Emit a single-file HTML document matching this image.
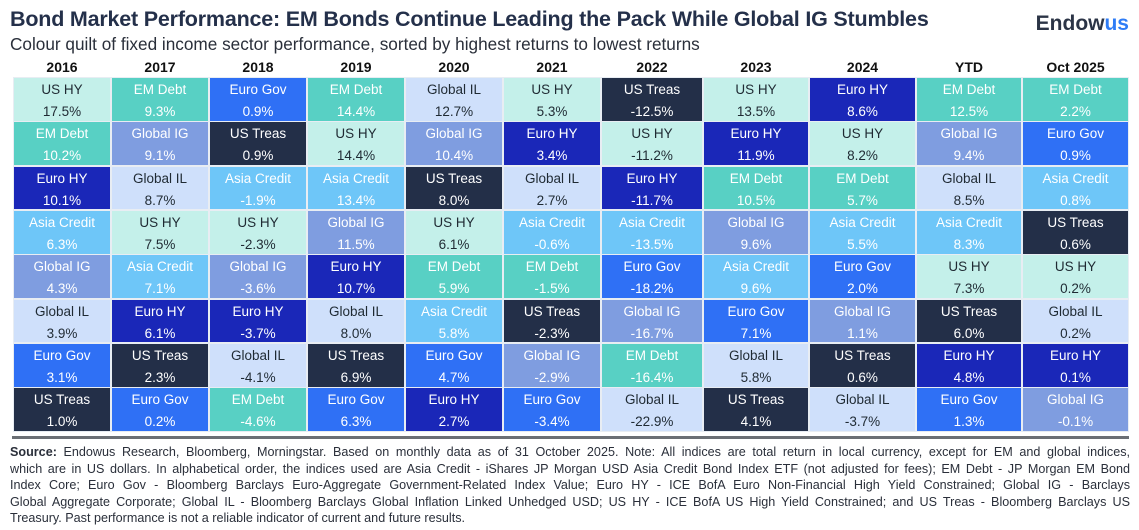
<!DOCTYPE html>
<html><head><meta charset="utf-8">
<style>
body{margin:0;width:1139px;height:530px;background:#fff;font-family:"Liberation Sans",sans-serif;position:relative;overflow:hidden;color:#1f2a44}
.abs{position:absolute}
#title{left:10px;top:7px;font-size:21.5px;font-weight:bold;color:#24304a;white-space:nowrap;letter-spacing:-0.2px}
#sub{left:10px;top:34px;font-size:17.2px;color:#2a2f3a;white-space:nowrap}
#logo{right:10px;top:12px;font-size:21px;font-weight:bold;color:#2b3446}
#logo span{color:#2e7cf6}
.hdr{font-size:14px;font-weight:bold;text-align:center;top:59px;color:#111}
.cell{box-sizing:border-box;border:1px solid #e8edf3;text-align:center;font-size:13.5px;line-height:22px;padding-top:1px}
#rule{left:12px;top:436px;width:1117px;height:3px;background:#6b6f75}
#foot{left:10px;top:444px;width:1120px;font-size:12.6px;line-height:16.6px;color:#2a2f3a}
#foot div{white-space:nowrap;text-align:justify;text-align-last:justify}
#foot div.last{text-align-last:left}
</style></head><body>
<div id="title" class="abs">Bond Market Performance: EM Bonds Continue Leading the Pack While Global IG Stumbles</div>
<div id="sub" class="abs">Colour quilt of fixed income sector performance, sorted by highest returns to lowest returns</div>
<div id="logo" class="abs">Endow<span>us</span></div>
<div id="grid"></div>
<div id="rule" class="abs"></div>
<div id="foot" class="abs">
<div><b>Source:</b> Endowus Research, Bloomberg, Morningstar. Based on monthly data as of 31 October 2025. Note: All indices are total return in local currency, except for EM and global indices,</div>
<div>which are in US dollars. In alphabetical order, the indices used are Asia Credit - iShares JP Morgan USD Asia Credit Bond Index ETF (not adjusted for fees); EM Debt - JP Morgan EM Bond</div>
<div>Index Core; Euro Gov - Bloomberg Barclays Euro-Aggregate Government-Related Index Value; Euro HY - ICE BofA Euro Non-Financial High Yield Constrained; Global IG - Barclays</div>
<div>Global Aggregate Corporate; Global IL - Bloomberg Barclays Global Inflation Linked Unhedged USD; US HY - ICE BofA US High Yield Constrained; and US Treas - Bloomberg Barclays US</div>
<div class="last">Treasury. Past performance is not a reliable indicator of current and future results.</div>
</div>
<script>
const years = ["2016","2017","2018","2019","2020","2021","2022","2023","2024","YTD","Oct 2025"];
const names2016 = ["US HY","EM Debt","Euro HY","Asia Credit","Global IG","Global IL","Euro Gov","US Treas"];
const values2016 = [17.5,10.2,10.1,6.3,4.3,3.9,3.1,1.0];
const names2017 = ["EM Debt","Global IG","Global IL","US HY","Asia Credit","Euro HY","US Treas","Euro Gov"];
const values2017 = [9.3,9.1,8.7,7.5,7.1,6.1,2.3,0.2];
const names2018 = ["Euro Gov","US Treas","Asia Credit","US HY","Global IG","Euro HY","Global IL","EM Debt"];
const values2018 = [0.9,0.9,-1.9,-2.3,-3.6,-3.7,-4.1,-4.6];
const names2019 = ["EM Debt","US HY","Asia Credit","Global IG","Euro HY","Global IL","US Treas","Euro Gov"];
const values2019 = [14.4,14.4,13.4,11.5,10.7,8.0,6.9,6.3];
const names2020 = ["Global IL","Global IG","US Treas","US HY","EM Debt","Asia Credit","Euro Gov","Euro HY"];
const values2020 = [12.7,10.4,8.0,6.1,5.9,5.8,4.7,2.7];
const names2021 = ["US HY","Euro HY","Global IL","Asia Credit","EM Debt","US Treas","Global IG","Euro Gov"];
const values2021 = [5.3,3.4,2.7,-0.6,-1.5,-2.3,-2.9,-3.4];
const names2022 = ["US Treas","US HY","Euro HY","Asia Credit","Euro Gov","Global IG","EM Debt","Global IL"];
const values2022 = [-12.5,-11.2,-11.7,-13.5,-18.2,-16.7,-16.4,-22.9];
const names2023 = ["US HY","Euro HY","EM Debt","Global IG","Asia Credit","Euro Gov","Global IL","US Treas"];
const values2023 = [13.5,11.9,10.5,9.6,9.6,7.1,5.8,4.1];
const names2024 = ["Euro HY","US HY","EM Debt","Asia Credit","Euro Gov","Global IG","US Treas","Global IL"];
const values2024 = [8.6,8.2,5.7,5.5,2.0,1.1,0.6,-3.7];
const namesYTD = ["EM Debt","Global IG","Global IL","Asia Credit","US HY","US Treas","Euro HY","Euro Gov"];
const valuesYTD = [12.5,9.4,8.5,8.3,7.3,6.0,4.8,1.3];
const namesOct = ["EM Debt","Euro Gov","Asia Credit","US Treas","US HY","Global IL","Euro HY","Global IG"];
const valuesOct = [2.2,0.9,0.8,0.6,0.2,0.2,0.1,-0.1];

const allNames=[names2016,names2017,names2018,names2019,names2020,names2021,names2022,names2023,names2024,namesYTD,namesOct];
const allValues=[values2016,values2017,values2018,values2019,values2020,values2021,values2022,values2023,values2024,valuesYTD,valuesOct];
const colors={"US HY":["#c4f0ea","#1f2a33"],"EM Debt":["#58d0c4","#fff"],"Euro Gov":["#2f70f5","#fff"],"Global IG":["#7f9de0","#fff"],"US Treas":["#232f48","#fff"],"Euro HY":["#1a27b8","#fff"],"Global IL":["#cfe0fb","#1f2a33"],"Asia Credit":["#6ec6f8","#fff"]};
const colEdges=[13,111,209,307,405,503,601,703,809,916,1022,1129];
const top0=77, rowH=44.3;
const g=document.getElementById('grid');
years.forEach((y,c)=>{
  const x=colEdges[c], w=colEdges[c+1]-colEdges[c];
  const h=document.createElement('div');
  h.className='abs hdr';
  h.style.left=x+'px';h.style.width=w+'px';
  h.textContent=y;
  
  
  g.appendChild(h);
  allNames[c].forEach((n,r)=>{
    const v=allValues[c][r];
    const d=document.createElement('div');
    d.className='abs cell';
    d.style.left=x+'px';d.style.width=w+'px';
    d.style.top=(top0+r*rowH)+'px';d.style.height=(rowH+0.5)+'px';
    const col=colors[n];
    d.style.background=col[0];d.style.color=col[1];
    d.innerHTML=n+'<br>'+v.toFixed(1)+'%';
    
    
    g.appendChild(d);
  });
});
</script>
</body></html>
